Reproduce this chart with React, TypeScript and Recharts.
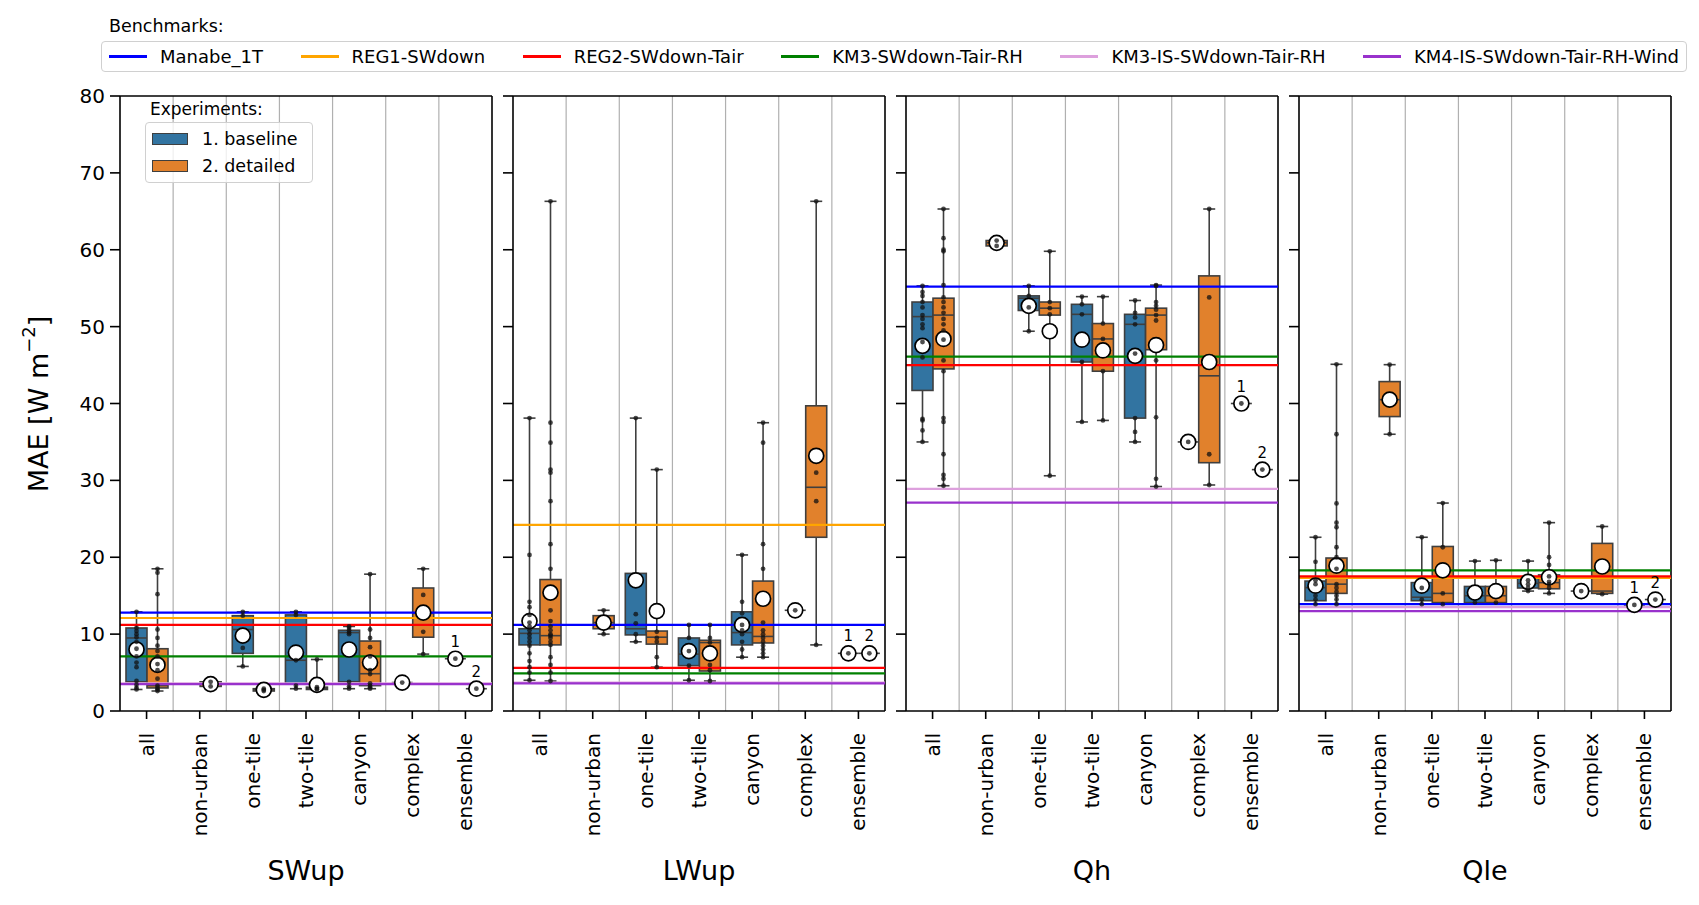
import React from "react";
import {
  ComposedChart,
  Bar,
  XAxis,
  YAxis,
  CartesianGrid,
  ReferenceLine,
} from "recharts";

// box = [whisker low, q1, median, q3, whisker high, mean]
type Box = number[] | null;

const CATEGORIES = ["all", "non-urban", "one-tile", "two-tile", "canyon", "complex", "ensemble"];
const Y_TICKS = [0, 10, 20, 30, 40, 50, 60, 70, 80];

const BENCH_NAMES = [
  "Manabe_1T",
  "REG1-SWdown",
  "REG2-SWdown-Tair",
  "KM3-SWdown-Tair-RH",
  "KM3-IS-SWdown-Tair-RH",
  "KM4-IS-SWdown-Tair-RH-Wind",
];
const BENCH_COLORS = ["#0000ff", "#ffa500", "#ff0000", "#008000", "#dda0dd", "#9932cc"];

const EXPERIMENTS = ["1. baseline", "2. detailed"];
const EXP_COLORS = ["#3274a1", "#e1812c"];
const EDGE = "#3f3f3f";

// ---- SWup ----
const SWUP_BENCH = [12.8, 12.1, 11.2, 7.1, 3.6, 3.5];
const SWUP_BASE: Box[] = [
  [2.8, 3.8, 9.5, 10.8, 12.9, 8.0],
  null,
  [5.8, 7.5, 10.6, 12.4, 12.9, 9.8],
  [2.9, 3.5, 6.6, 12.5, 12.9, 7.6],
  [2.9, 3.8, 10.2, 10.5, 11.0, 8.0],
  [3.7, 3.7, 3.7, 3.7, 3.7, 3.7],
  [6.8, 6.8, 6.8, 6.8, 6.8, 6.8],
];
const SWUP_BASE_PTS = [
  [12.9, 10.8, 10.4, 10.0, 9.6, 9.0, 8.1, 7.1, 6.3, 5.7, 3.9, 3.4, 3.0, 2.8],
  [],
  [12.9, 12.4, 8.2, 5.8],
  [12.9, 12.5, 6.6, 3.3, 2.9],
  [11.0, 10.8, 10.5, 10.2, 10.0, 3.8, 3.2, 2.9],
  [3.7],
  [6.8],
];
const SWUP_DTL: Box[] = [
  [2.6, 3.0, 3.3, 8.1, 18.5, 6.0],
  [3.2, 3.2, 3.5, 3.8, 3.8, 3.5],
  [2.6, 2.6, 2.75, 2.9, 2.9, 2.75],
  [2.8, 2.8, 2.9, 3.1, 6.7, 3.4],
  [2.9, 3.3, 4.85, 9.1, 17.8, 6.3],
  [7.4, 9.6, 12.7, 16.0, 18.5, 12.8],
  [2.9, 2.9, 2.9, 2.9, 2.9, 2.9],
];
const SWUP_DTL_PTS = [
  [18.5, 18.0, 15.2, 10.6, 9.5, 8.5, 7.8, 7.1, 6.1, 5.3, 4.2, 3.3, 3.0, 2.8, 2.6],
  [3.2, 3.8],
  [2.6, 2.75, 2.9],
  [6.7, 3.1, 2.9, 2.8],
  [17.8, 10.6, 9.5, 8.3, 7.1, 5.3, 4.8, 3.6, 3.3, 3.1, 2.9],
  [18.5, 15.1, 10.3, 7.4],
  [2.9],
];

// ---- LWup ----
const LWUP_BENCH = [11.2, 24.2, 5.6, 4.9, 3.7, 3.6];
const LWUP_BASE: Box[] = [
  [4.0, 8.6, 10.1, 10.7, 38.1, 11.7],
  null,
  [9.0, 9.9, 10.7, 17.9, 38.1, 17.0],
  [4.0, 5.9, 7.4, 9.5, 11.2, 7.8],
  [7.0, 8.6, 10.2, 12.9, 20.3, 11.2],
  [13.1, 13.1, 13.1, 13.1, 13.1, 13.1],
  [7.5, 7.5, 7.5, 7.5, 7.5, 7.5],
];
const LWUP_BASE_PTS = [
  [38.1, 20.3, 14.2, 13.5, 12.5, 11.5, 11.0, 10.5, 10.0, 9.5, 9.0, 8.5, 7.5, 6.5, 5.7, 5.0, 4.0],
  [],
  [38.1, 12.6, 11.4, 10.0, 9.0],
  [11.2, 9.5, 7.8, 5.9, 4.0],
  [20.3, 14.2, 12.7, 11.2, 10.5, 10.0, 9.0, 8.0, 7.0],
  [13.1],
  [7.5],
];
const LWUP_DTL: Box[] = [
  [3.9, 8.6, 9.8, 17.1, 66.3, 15.4],
  [10.0, 10.7, 11.5, 12.4, 13.1, 11.5],
  [5.7, 8.7, 9.6, 10.4, 31.4, 13.0],
  [3.9, 5.2, 8.9, 9.2, 11.2, 7.5],
  [7.0, 8.85, 9.7, 16.9, 37.5, 14.6],
  [8.6, 22.6, 29.1, 39.7, 66.3, 33.2],
  [7.5, 7.5, 7.5, 7.5, 7.5, 7.5],
];
const LWUP_DTL_PTS = [
  [66.3, 37.5, 34.9, 31.4, 31.0, 27.3, 21.7, 18.5, 13.1, 11.7, 11.0, 10.5, 10.0, 9.8, 9.5, 9.0, 8.6, 7.0, 6.0, 5.0, 3.9],
  [13.1, 10.0],
  [31.4, 10.3, 9.5, 9.0, 7.0, 5.7],
  [11.2, 9.5, 8.9, 6.0, 5.3, 3.9],
  [37.5, 34.9, 21.7, 18.5, 11.5, 10.5, 10.0, 9.5, 9.0, 8.5, 8.0, 7.5, 7.0],
  [66.3, 31.0, 27.3, 8.6],
  [7.5],
];

// ---- Qh ----
const QH_BENCH = [55.2, null, 45.0, 46.1, 28.9, 27.1];
const QH_BASE: Box[] = [
  [35.0, 41.7, 51.3, 53.2, 55.3, 47.5],
  null,
  [49.4, 52.1, 53.7, 54.0, 55.3, 52.7],
  [37.6, 45.4, 51.6, 52.9, 53.9, 48.3],
  [35.0, 38.1, 50.3, 51.6, 53.4, 46.2],
  [35.0, 35.0, 35.0, 35.0, 35.0, 35.0],
  [40.0, 40.0, 40.0, 40.0, 40.0, 40.0],
];
const QH_BASE_PTS = [
  [55.3, 54.5, 54.0, 53.2, 52.5, 51.5, 51.0, 50.3, 49.8, 48.0, 46.0, 38.0, 37.8, 36.5, 35.0],
  [],
  [55.3, 54.0, 52.5, 49.4],
  [53.9, 52.9, 51.6, 45.4, 37.6],
  [53.4, 51.8, 51.2, 50.3, 46.5, 38.1, 36.3, 35.0],
  [35.0],
  [40.0],
];
const QH_DTL: Box[] = [
  [29.3, 44.5, 51.5, 53.7, 65.3, 48.4],
  [60.5, 60.5, 60.9, 61.2, 61.2, 60.9],
  [30.6, 51.5, 52.4, 53.2, 59.8, 49.4],
  [37.8, 44.2, 48.4, 50.4, 53.9, 46.9],
  [29.2, 47.0, 51.5, 52.4, 55.4, 47.6],
  [29.4, 32.3, 43.6, 56.6, 65.3, 45.4],
  [31.4, 31.4, 31.4, 31.4, 31.4, 31.4],
];
const QH_DTL_PTS = [
  [65.3, 61.5, 60.0, 59.8, 55.4, 53.8, 53.2, 52.5, 51.8, 51.0, 50.3, 49.5, 48.3, 45.6, 44.2, 38.1, 37.6, 33.4, 30.7, 30.2, 29.3],
  [60.5, 61.2],
  [59.8, 53.2, 52.4, 51.6, 30.6],
  [53.9, 50.4, 48.4, 44.2, 37.8],
  [55.4, 55.3, 53.2, 52.7, 52.2, 51.5, 50.8, 45.6, 38.2, 30.2, 29.2],
  [65.3, 53.8, 33.4, 29.4],
  [31.4],
];

// ---- Qle ----
const QLE_BENCH = [13.9, 17.3, 17.5, 18.3, 13.5, 13.0];
const QLE_BASE: Box[] = [
  [13.9, 14.35, 16.05, 16.9, 22.6, 16.3],
  null,
  [13.9, 14.35, 14.8, 16.7, 22.6, 16.3],
  [14.1, 14.1, 15.0, 16.2, 19.5, 15.4],
  [15.6, 16.0, 16.6, 17.3, 19.5, 16.8],
  [15.6, 15.6, 15.6, 15.6, 15.6, 15.6],
  [13.8, 13.8, 13.8, 13.8, 13.8, 13.8],
];
const QLE_BASE_PTS = [
  [22.6, 19.4, 17.0, 16.5, 15.0, 14.5, 13.9],
  [],
  [22.6, 16.0, 14.5, 13.9],
  [19.5, 14.1],
  [19.5, 17.0, 16.5, 16.0, 15.6],
  [15.6],
  [13.8],
];
const QLE_DTL: Box[] = [
  [13.9, 15.3, 16.5, 19.9, 45.1, 18.9],
  [36.0, 38.3, 40.5, 42.85, 45.05, 40.5],
  [13.9, 14.1, 15.3, 21.4, 27.05, 18.3],
  [14.1, 14.1, 15.0, 16.2, 19.6, 15.6],
  [15.3, 15.9, 16.7, 17.7, 24.5, 17.4],
  [15.2, 15.3, 15.6, 21.8, 24.0, 18.8],
  [14.5, 14.5, 14.5, 14.5, 14.5, 14.5],
];
const QLE_DTL_PTS = [
  [45.1, 36.0, 27.0, 24.5, 23.9, 21.3, 20.0, 18.5, 16.5, 16.0, 15.5, 15.0, 14.5, 13.9],
  [45.05, 36.0],
  [27.05, 21.3, 15.3, 13.9],
  [19.6, 14.1],
  [24.5, 20.0, 19.0, 17.5, 16.8, 16.5, 16.0, 15.3],
  [24.0, 15.2],
  [14.5],
];

const PANELS = [
  { name: "SWup", bench: SWUP_BENCH, base: SWUP_BASE, basePts: SWUP_BASE_PTS, dtl: SWUP_DTL, dtlPts: SWUP_DTL_PTS },
  { name: "LWup", bench: LWUP_BENCH, base: LWUP_BASE, basePts: LWUP_BASE_PTS, dtl: LWUP_DTL, dtlPts: LWUP_DTL_PTS },
  { name: "Qh", bench: QH_BENCH, base: QH_BASE, basePts: QH_BASE_PTS, dtl: QH_DTL, dtlPts: QH_DTL_PTS },
  { name: "Qle", bench: QLE_BENCH, base: QLE_BASE, basePts: QLE_BASE_PTS, dtl: QLE_DTL, dtlPts: QLE_DTL_PTS },
];

const FONT = "'DejaVu Sans', sans-serif";
const PLOT_LEFTS = [120, 513, 906, 1299];
const PLOT_W = 372;
const PLOT_TOP = 96;
const PLOT_H = 615;
const X_AXIS_H = 180;
const TOP_PAD = 20;
const CAP = 6;
const AXIS_STYLE = { stroke: "#000", strokeWidth: 1.6 };

type Key = "base" | "dtl";

// span of whiskers and points, used as the bar's [low, high] range
const span = (row: any, key: Key): number[] | null => {
  const s: Box = row[key];
  if (!s) return null;
  const pts: number[] = row[key + "Pts"];
  return [Math.min(s[0], ...pts), Math.max(s[4], ...pts)];
};

const toPixel = (p: any, key: Key) => {
  const [lo, hi] = span(p.payload, key) as number[];
  return (v: number) => (hi > lo ? p.y + (p.height * (hi - v)) / (hi - lo) : p.y);
};

const makeBox = (key: Key, fill: string) => (p: any) => {
  const s: Box = p.payload[key];
  if (!s || !isFinite(p.y)) return <g />;
  const py = toPixel(p, key);
  const [wl, q1, med, q3, wh] = s;
  const cx = p.x + p.width / 2;
  return (
    <g stroke={EDGE} strokeWidth={1.6}>
      <line x1={cx} x2={cx} y1={py(wh)} y2={py(q3)} />
      <line x1={cx} x2={cx} y1={py(q1)} y2={py(wl)} />
      <line x1={cx - CAP} x2={cx + CAP} y1={py(wh)} y2={py(wh)} />
      <line x1={cx - CAP} x2={cx + CAP} y1={py(wl)} y2={py(wl)} />
      <rect x={p.x} y={py(q3)} width={p.width} height={Math.max(0, py(q1) - py(q3))} fill={fill} />
      <line x1={p.x} x2={p.x + p.width} y1={py(med)} y2={py(med)} />
    </g>
  );
};

const makeMarks = (key: Key, tag: string) => (p: any) => {
  const s: Box = p.payload[key];
  if (!s || !isFinite(p.y)) return <g />;
  const py = toPixel(p, key);
  const cx = p.x + p.width / 2;
  const pts: number[] = p.payload[key + "Pts"];
  return (
    <g>
      <circle cx={cx} cy={py(s[5])} r={7.5} fill="#fff" stroke="#000" strokeWidth={1.7} />
      {pts.map((v, i) => (
        <circle key={i} cx={cx} cy={py(v)} r={2.4} fill="#111" fillOpacity={0.75} />
      ))}
      {p.payload.ens && (
        <text x={cx} y={py(s[5]) - 12} textAnchor="middle" fontSize={15} fontFamily={FONT} fill="#000">
          {tag}
        </text>
      )}
    </g>
  );
};

const CatTick = (props: any) => {
  const { x, y, payload } = props;
  return (
    <text
      x={x}
      y={y}
      transform={`rotate(-90, ${x}, ${y})`}
      textAnchor="end"
      dy="0.35em"
      fontSize={20}
      fontFamily={FONT}
      fill="#000">
      {payload.value}
    </text>
  );
};

// vertical separators between the categories
const categoryEdges = (props: any) => {
  const o = props.offset;
  if (!o) return [];
  return [1, 2, 3, 4, 5, 6].map((i) => o.left + (i * o.width) / CATEGORIES.length);
};
// top and right sides of the axes frame
const frameRight = (props: any) => (props.offset ? [props.offset.left + props.offset.width] : []);
const frameTop = (props: any) => (props.offset ? [props.offset.top] : []);

function Panel({ idx }: { idx: number }) {
  const panel = PANELS[idx];
  const first = idx === 0;
  const rows = CATEGORIES.map((cat, i) => ({
    cat,
    base: panel.base[i],
    basePts: panel.basePts[i],
    dtl: panel.dtl[i],
    dtlPts: panel.dtlPts[i],
    ens: i === CATEGORIES.length - 1,
  }));
  const yAxisW = first ? 60 : 30;
  const marginLeft = first ? 60 : 10;
  const chartLeft = PLOT_LEFTS[idx] - yAxisW - marginLeft;
  const width = yAxisW + marginLeft + PLOT_W + 12;
  const height = TOP_PAD + PLOT_H + X_AXIS_H;

  return (
    <div style={{ position: "absolute", left: chartLeft, top: PLOT_TOP - TOP_PAD }}>
      <ComposedChart
        width={width}
        height={height}
        data={rows}
        barSize={21}
        barGap={0}
        margin={{ top: TOP_PAD, right: 12, bottom: 0, left: marginLeft }}>
        <CartesianGrid
          horizontal={false}
          stroke="#b0b0b0"
          strokeWidth={1.2}
          verticalCoordinatesGenerator={categoryEdges}
        />
        <CartesianGrid
          stroke="#000"
          strokeWidth={1.6}
          verticalCoordinatesGenerator={frameRight}
          horizontalCoordinatesGenerator={frameTop}
        />
        <XAxis
          dataKey="cat"
          height={X_AXIS_H}
          interval={0}
          tick={<CatTick />}
          tickSize={8}
          tickMargin={14}
          axisLine={AXIS_STYLE}
          tickLine={AXIS_STYLE}
          label={{
            value: panel.name,
            position: "insideBottom",
            offset: 11,
            fontSize: 27,
            fill: "#000",
            fontFamily: FONT,
          }}
        />
        <XAxis xAxisId="ov" dataKey="cat" hide />
        <YAxis
          width={yAxisW}
          domain={[0, 80]}
          ticks={Y_TICKS}
          interval={0}
          tickSize={10}
          tickMargin={5}
          tickFormatter={first ? (v: number) => String(v) : () => ""}
          tick={{ fontSize: 20, fill: "#000", fontFamily: FONT }}
          axisLine={AXIS_STYLE}
          tickLine={AXIS_STYLE}
        />
        <Bar
          dataKey={(r: any) => span(r, "base")}
          shape={makeBox("base", EXP_COLORS[0])}
          isAnimationActive={false}
        />
        <Bar
          dataKey={(r: any) => span(r, "dtl")}
          shape={makeBox("dtl", EXP_COLORS[1])}
          isAnimationActive={false}
        />
        {panel.bench.map((v, i) =>
          v == null ? null : (
            <ReferenceLine key={i} y={v} stroke={BENCH_COLORS[i]} strokeWidth={2.2} zIndex={400} />
          ),
        )}
        <Bar
          xAxisId="ov"
          dataKey={(r: any) => span(r, "base")}
          shape={makeMarks("base", "1")}
          isAnimationActive={false}
          zIndex={600}
        />
        <Bar
          xAxisId="ov"
          dataKey={(r: any) => span(r, "dtl")}
          shape={makeMarks("dtl", "2")}
          isAnimationActive={false}
          zIndex={600}
        />
      </ComposedChart>
    </div>
  );
}

export default function App() {
  return (
    <div
      style={{
        position: "absolute",
        left: 0,
        top: 0,
        width: 1699,
        height: 905,
        background: "#fff",
        fontFamily: FONT,
        color: "#000",
      }}>
      {/* benchmark legend */}
      <div style={{ position: "absolute", left: 109, top: 16, fontSize: 17.5 }}>Benchmarks:</div>
      <div
        style={{
          position: "absolute",
          left: 101,
          top: 41,
          width: 1586,
          height: 31,
          border: "1.5px solid #d0d0d0",
          borderRadius: 4,
          boxSizing: "border-box",
          display: "flex",
          justifyContent: "space-between",
          alignItems: "center",
          padding: "0 7px",
          zIndex: 5,
        }}>
        {BENCH_NAMES.map((n, i) => (
          <div
            key={n}
            style={{
              display: "flex",
              alignItems: "center",
              fontSize: 18,
              whiteSpace: "nowrap",
            }}>
            <span style={{ width: 38, height: 2.5, background: BENCH_COLORS[i], marginRight: 13 }} />
            {n}
          </div>
        ))}
      </div>

      {PANELS.map((p, i) => (
        <Panel key={p.name} idx={i} />
      ))}

      {/* experiments legend */}
      <div style={{ position: "absolute", left: 150, top: 99, fontSize: 17, zIndex: 5 }}>Experiments:</div>
      <div
        style={{
          position: "absolute",
          left: 145,
          top: 122,
          width: 168,
          height: 61,
          border: "1.5px solid #d0d0d0",
          borderRadius: 4,
          background: "rgba(255,255,255,0.8)",
          boxSizing: "border-box",
          zIndex: 5,
        }}>
        {EXPERIMENTS.map((e, i) => (
          <div
            key={e}
            style={{
              position: "absolute",
              left: 6,
              top: 5 + i * 27,
              height: 22,
              display: "flex",
              alignItems: "center",
              fontSize: 17.5,
              whiteSpace: "nowrap",
            }}>
            <span
              style={{
                width: 36,
                height: 12,
                background: EXP_COLORS[i],
                border: `1px solid ${EDGE}`,
                boxSizing: "border-box",
                marginRight: 14,
              }}
            />
            {e}
          </div>
        ))}
      </div>

      {/* y label */}
      <svg style={{ position: "absolute", left: 0, top: 0 }} width={80} height={905}>
        <text
          x={38}
          y={404}
          transform="rotate(-90, 38, 404)"
          textAnchor="middle"
          dominantBaseline="central"
          fontSize={27}
          fontFamily={FONT}
          fill="#000">
          MAE [W m
          <tspan dy={-10} fontSize={18}>
            −2
          </tspan>
          <tspan dy={10}>]</tspan>
        </text>
      </svg>
    </div>
  );
}
